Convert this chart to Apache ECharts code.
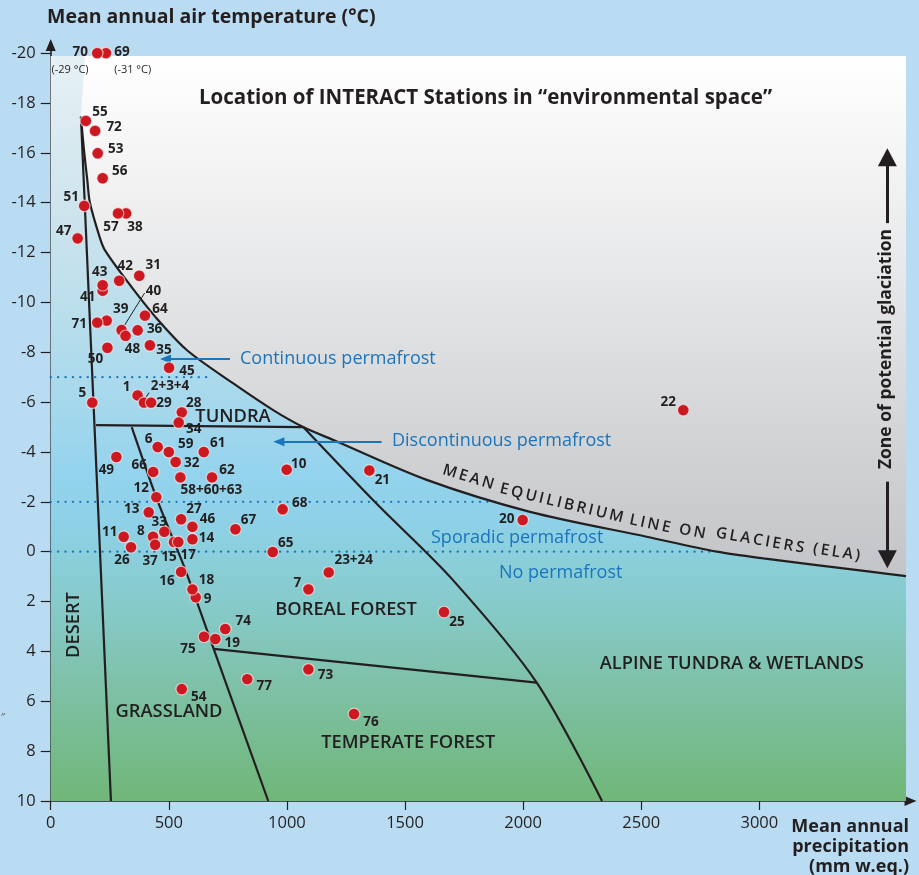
<!DOCTYPE html>
<html lang="en">
<head>
<meta charset="UTF-8">
<title>INTERACT stations in environmental space</title>
<script src="https://cdn.jsdelivr.net/npm/echarts@6.0.0/dist/echarts.min.js"></script>
<style>
  html, body { margin: 0; padding: 0; background: #badcf2; }
  #main { width: 919px; height: 875px; }
</style>
</head>
<body>
<div id="main"></div>
<script>
// stations (drawing order: hidden ones first)
var stations = ['69', '70', '55', '72', '53', '56', '51', '38', '57', '47',
    '31', '42', '41', '43', '64', '39', '71', '40', '48', '36',
    '35', '50', '45', '1', '2+3+4', '29', '5', '28', '34', '6',
    '59', '61', '49', '32', '66', '10', '58+60+63', '62', '21', '12',
    '68', '13', '27', '20', '46', '67', '33', '11', '8', '14',
    '15', '17', '37', '26', '65', '16', '23+24', '7', '9', '18',
    '25', '74', '75', '19', '73', '77', '54', '76', '22'];
// mean annual precipitation (mm w.eq.)
var precipitation = [234, 197, 149, 188, 199, 220, 142, 319, 285, 114,
    375, 290, 220, 220, 399, 237, 197, 300, 317, 368,
    420, 240, 501, 368, 395, 425, 176, 555, 542, 453,
    500, 648, 278, 529, 434, 999, 549, 683, 1349, 447,
    982, 415, 552, 1998, 600, 782, 481, 309, 433, 600,
    522, 540, 442, 340, 940, 552, 1177, 1091, 614, 600,
    1665, 739, 649, 697, 1091, 832, 555, 1284, 2678];
// mean annual air temperature (°C)
var temperature = [-20, -20, -17.28, -16.88, -15.98, -14.98, -13.87, -13.57, -13.57, -12.57,
    -11.07, -10.87, -10.47, -10.69, -9.47, -9.27, -9.19, -8.89, -8.66, -8.88,
    -8.28, -8.18, -7.38, -6.27, -5.98, -5.98, -5.98, -5.59, -5.18, -4.2,
    -4.0, -4.0, -3.8, -3.6, -3.2, -3.29, -2.98, -2.98, -3.26, -2.19,
    -1.7, -1.58, -1.3, -1.27, -1.0, -0.9, -0.8, -0.6, -0.6, -0.5,
    -0.39, -0.39, -0.28, -0.18, 0.01, 0.81, 0.83, 1.51, 1.83, 1.51,
    2.42, 3.1, 3.41, 3.5, 4.72, 5.11, 5.51, 6.51, -5.68];

var precipTicks = [0, 500, 1000, 1500, 2000, 2500, 3000];
var tempTicks = [-20, -18, -16, -14, -12, -10, -8, -6, -4, -2, 0, 2, 4, 6, 8, 10];

// zone boundaries
var elaPrecip = [128, 140, 155, 166, 209, 230, 330, 442, 576, 773, 942, 1069, 1197, 1592, 2029, 2523, 2820, 3017, 3469, 3621];
var elaTemp = [-17.45, -16.2, -14.9, -14.0, -12.57, -12.09, -10.77, -9.43, -8.09, -6.75, -5.68, -5.0, -4.48, -2.88, -1.6, -0.6, 0.0, 0.27, 0.8, 0.98];
var desertPrecip = [128, 255];
var desertTemp = [-17.45, 10];
var tundraPrecip = [192, 1069];
var tundraTemp = [-5.08, -5.0];
var borealPrecip = [343, 450, 565, 690, 921];
var borealTemp = [-5.0, -2.1, 0.6, 3.9, 10];
var temperatePrecip = [690, 2057];
var temperateTemp = [3.9, 5.25];
var alpinePrecip = [1069, 1377, 1703, 2059, 2334];
var alpineTemp = [-5.0, -1.95, 1.14, 5.27, 10];
// permafrost limits (temperature, where the dotted line stops)
var permafrostTemp = [-7, -2, 0];
var permafrostEnd = [681, 1880, 2810];

// ---- styling ----
var dark = '#231f20';
var blue = '#1b75bc';
var plotTop = -19.88, plotRight = 3621;
var blueStops = [[-19.88, '#e6f1f5'], [-14, '#cfe5ed'], [-10, '#bcdfec'], [-6, '#a6d8ec'], [-3, '#93d3ed'],
    [-1, '#8ed1e6'], [1, '#89cdd4'], [3, '#84c8c2'], [5, '#7fc2ac'], [7, '#79bd96'], [10, '#70b778']];
var greyStops = [[-19.88, '#ffffff'], [-16, '#f5f5f6'], [-12, '#e9eaeb'], [-8, '#dddee0'], [-4, '#d1d2d4'], [0, '#c6c7ca'], [1.1, '#c3c4c7']];

// label offsets (px from dot centre)
var labelOffset = {
    '70': [-17, -1], '69': [16, -1], '55': [14, -9], '72': [19, -4], '53': [18, -4], '56': [17, -7],
    '51': [-13, -9], '57': [-7, 14], '38': [9, 14], '47': [-14, -7], '43': [-3, -13], '41': [-15, 6],
    '42': [6, -15], '31': [14, -11], '40': [32, -39], '39': [14, -11], '71': [-18, 2], '64': [15, -6],
    '36': [17, -1], '48': [7, 13], '35': [14, 5], '50': [-12, 11], '45': [18, 3], '1': [-11, -8],
    '2+3+4': [26, -16], '29': [13, 1], '5': [-10, -9], '28': [12, -9], '34': [15, 7], '6': [-9, -8],
    '59': [17, -8], '61': [14, -9], '49': [-10, 13], '32': [16, 1], '66': [-14, -7], '10': [12, -6],
    '58+60+63': [31, 13], '62': [15, -7], '12': [-15, -9], '68': [17, -6], '13': [-17, -3], '27': [13, -10],
    '46': [15, -8], '67': [13, -9], '33': [-5, -10], '11': [-14, -5], '8': [-12, -6], '14': [14, -1],
    '15': [-5, 15], '17': [10, 13], '37': [-5, 16], '26': [-9, 13], '65': [13, -9], '16': [-14, 9],
    '7': [-11, -6], '18': [14, -9], '9': [12, 2], '74': [18, -8], '75': [-16, 12], '19': [17, 4],
    '73': [17, 6], '77': [17, 7], '54': [17, 8], '21': [13, 10], '20': [-16, -1], '23+24': [25, -12],
    '25': [13, 10], '76': [17, 8], '22': [-15, -8]
};
var leaderLine = { '40': [0, 0, 23, -37], '2+3+4': [0, -2, 5, -10] };

function pairs(xs, ys) {
    return xs.map(function (x, i) { return [x, ys[i]]; });
}

function gradient(api, stops, t0, t1) {
    var y0 = api.coord([0, t0])[1], y1 = api.coord([0, t1])[1];
    return new echarts.graphic.LinearGradient(0, y0, 0, y1, stops.map(function (s) {
        return { offset: (s[0] - t0) / (t1 - t0), color: s[1] };
    }), true);
}

function boundary(xs, ys, smooth) {
    return {
        type: 'line', data: pairs(xs, ys), smooth: smooth || false, symbol: 'none',
        silent: true, z: 3, animation: false,
        lineStyle: { color: dark, width: 2.2 }
    };
}

function permafrostLine(t, end) {
    return {
        type: 'line', data: [[0, t], [end, t]], symbol: 'none', silent: true, z: 2, animation: false,
        lineStyle: { color: blue, width: 2.3, type: [0.1, 7.3], cap: 'round' }
    };
}

function arrow(p0, p1, color, width, size) {
    var ls = { color: color, width: width, type: 'solid' };
    return [
        { coord: p0, symbol: 'none', lineStyle: ls },
        { coord: p1, symbol: 'triangle', symbolSize: size, lineStyle: ls }
    ];
}

function txt(x, y, text, font, color, align, rot) {
    return {
        type: 'text', x: x, y: y, rotation: rot || 0, z: 100, silent: true,
        style: {
            text: text, font: font, fill: color,
            textAlign: align || 'center', textVerticalAlign: 'middle',
            align: align || 'center', verticalAlign: 'middle'
        }
    };
}

function spaced(s) { return s.split('').join('\u2009'); }
var deg = Math.PI / 180;
var fBold = function (s) { return '700 ' + s + 'px "Open Sans"'; };
var fSemi = function (s) { return '600 ' + s + 'px "Open Sans"'; };
var fReg = function (s) { return '400 ' + s + 'px "Open Sans"'; };

var series = [];

// background: blue-green below the ELA, grey above it
series.push({
    type: 'custom', silent: true, z: 1, animation: false,
    data: [[0, 0]],
    renderItem: function (params, api) {
        var tl = api.coord([0, plotTop]), br = api.coord([plotRight, 10]);
        var grey = [[145, plotTop], [plotRight, plotTop]].concat(pairs(elaPrecip, elaTemp).reverse())
            .map(function (p) { return api.coord(p); });
        return {
            type: 'group', children: [
                { type: 'rect', shape: { x: tl[0], y: tl[1], width: br[0] - tl[0], height: br[1] - tl[1] },
                  style: { fill: gradient(api, blueStops, plotTop, 10) } },
                { type: 'polygon', shape: { points: grey },
                  style: { fill: gradient(api, greyStops, plotTop, 1.1) } }
            ]
        };
    }
});

permafrostTemp.forEach(function (t, i) { series.push(permafrostLine(t, permafrostEnd[i])); });

series.push(boundary(elaPrecip, elaTemp, 0.3));
series.push(boundary(desertPrecip, desertTemp));
series.push(boundary(tundraPrecip, tundraTemp));
series.push(boundary(borealPrecip, borealTemp, 0.2));
series.push(boundary(temperatePrecip, temperateTemp));
series.push(boundary(alpinePrecip, alpineTemp, 0.3));

// arrows
series.push({
    type: 'line', data: [], silent: true, z: 4, animation: false,
    markLine: {
        silent: true, animation: false, label: { show: false },
        data: [
            arrow([759, -7.73], [486, -7.73], blue, 1.8, [9, 11]),
            arrow([1401, -4.41], [966, -4.41], blue, 1.8, [9, 11]),
            arrow([3542, -13.18], [3542, -15.82], dark, 3, [19, 18]),
            arrow([3542, -2.81], [3542, 0.305], dark, 3, [19, 18])
        ]
    }
});

// stations
series.push({
    type: 'custom', z: 10, animation: false, clip: false,
    data: stations.map(function (s, i) { return [precipitation[i], temperature[i], i]; }),
    encode: { x: 0, y: 1 },
    renderItem: function (params, api) {
        var p = api.coord([api.value(0), api.value(1)]);
        var name = stations[api.value(2)];
        var off = labelOffset[name] || [14, 0];
        var children = [];
        var ll = leaderLine[name];
        if (ll) {
            children.push({ type: 'line', shape: { x1: p[0] + ll[0], y1: p[1] + ll[1], x2: p[0] + ll[2], y2: p[1] + ll[3] },
                style: { stroke: dark, lineWidth: 1 } });
        }
        children.push({ type: 'circle', shape: { cx: p[0], cy: p[1], r: 5.8 },
            style: { fill: '#cc1820', stroke: 'rgba(255,255,255,0.6)', lineWidth: 1.2 } });
        children.push({ type: 'text', x: p[0] + off[0], y: p[1] + off[1],
            style: { text: name, fill: dark, font: fBold(13.5), align: 'center', verticalAlign: 'middle',
                textAlign: 'center', textVerticalAlign: 'middle' } });
        return { type: 'group', children: children };
    }
});

var graphics = [
    txt(485.5, 98, 'Location of INTERACT Stations in \u201cenvironmental space\u201d', fBold(20.5), dark),
    txt(47, 17, 'Mean annual air temperature (\u00b0C)', fBold(19.5), dark, 'left'),
    txt(909, 826.7, 'Mean annual', fBold(18), dark, 'right'),
    txt(909, 846.7, 'precipitation', fBold(18), dark, 'right'),
    txt(909, 866.7, '(mm w.eq.)', fBold(18), dark, 'right'),
    txt(70, 70, '(-29 \u00b0C)', fReg(11), dark),
    txt(132.7, 70, '(-31 \u00b0C)', fReg(11), dark),
    txt(240, 359, 'Continuous permafrost', fReg(18), blue, 'left'),
    txt(392, 441, 'Discontinuous permafrost', fReg(18), blue, 'left'),
    txt(431, 538, 'Sporadic permafrost', fReg(18), blue, 'left'),
    txt(499, 573, 'No permafrost', fReg(18), blue, 'left'),
    txt(233, 416.7, 'TUNDRA', fSemi(18.3), dark),
    txt(346, 609.3, 'BOREAL FOREST', fSemi(18.3), dark),
    txt(408.3, 742.3, 'TEMPERATE FOREST', fSemi(18.3), dark),
    txt(731.7, 663.3, 'ALPINE TUNDRA & WETLANDS', fSemi(18.3), dark),
    txt(169, 712, 'GRASSLAND', fSemi(18.3), dark),
    txt(73.3, 625, 'DESERT', fSemi(18.3), dark, 'center', Math.PI / 2),
    txt(886, 349, 'Zone of potential glaciation', fBold(17.5), dark, 'center', Math.PI / 2),
    txt(468.3, 477.3, spaced('MEAN'), fSemi(15.5), dark, 'center', -17 * deg),
    txt(561.7, 503.3, spaced('EQUILIBRIUM'), fSemi(15.5), dark, 'center', -13.5 * deg),
    txt(650, 524, spaced('LINE'), fSemi(15.5), dark, 'center', -12 * deg),
    txt(692.3, 531.7, spaced('ON'), fSemi(15.5), dark, 'center', -11 * deg),
    txt(760, 540.7, spaced('GLACIERS'), fSemi(15.5), dark, 'center', -10 * deg),
    txt(836.7, 552.3, spaced('(ELA)'), fSemi(15.5), dark, 'center', -9 * deg),
    txt(3, 718, '\u2033', fReg(11), '#555555', 'center')
];

var myChart = echarts.init(document.getElementById('main'));
myChart.setOption({
    animation: false,
    backgroundColor: '#badcf2',
    grid: { left: 50.7, top: 45, width: 859.8, height: 756 },
    xAxis: {
        type: 'value', min: 0, max: 3640,
        axisLine: { onZero: false, symbol: ['none', 'triangle'], symbolSize: [10, 12],
            lineStyle: { color: dark, width: 1.6 } },
        axisTick: { customValues: precipTicks, length: 9, lineStyle: { color: dark, width: 1.2 } },
        axisLabel: { customValues: precipTicks, margin: 14, color: dark, fontSize: 16.5, fontFamily: 'Open Sans',
            formatter: function (v) { return String(v); } },
        splitLine: { show: false }
    },
    yAxis: {
        type: 'value', inverse: true, min: -20.325, max: 10,
        axisLine: { onZero: false, symbol: ['none', 'triangle'], symbolSize: [10, 12],
            lineStyle: { color: dark, width: 1.6 } },
        axisTick: { customValues: tempTicks, length: 10, lineStyle: { color: dark, width: 1.2 } },
        axisLabel: { customValues: tempTicks, margin: 15, color: dark, fontSize: 16.5, fontFamily: 'Open Sans',
            formatter: function (v) { return String(v); } },
        splitLine: { show: false }
    },
    graphic: graphics,
    series: series
});
</script>
</body>
</html>
